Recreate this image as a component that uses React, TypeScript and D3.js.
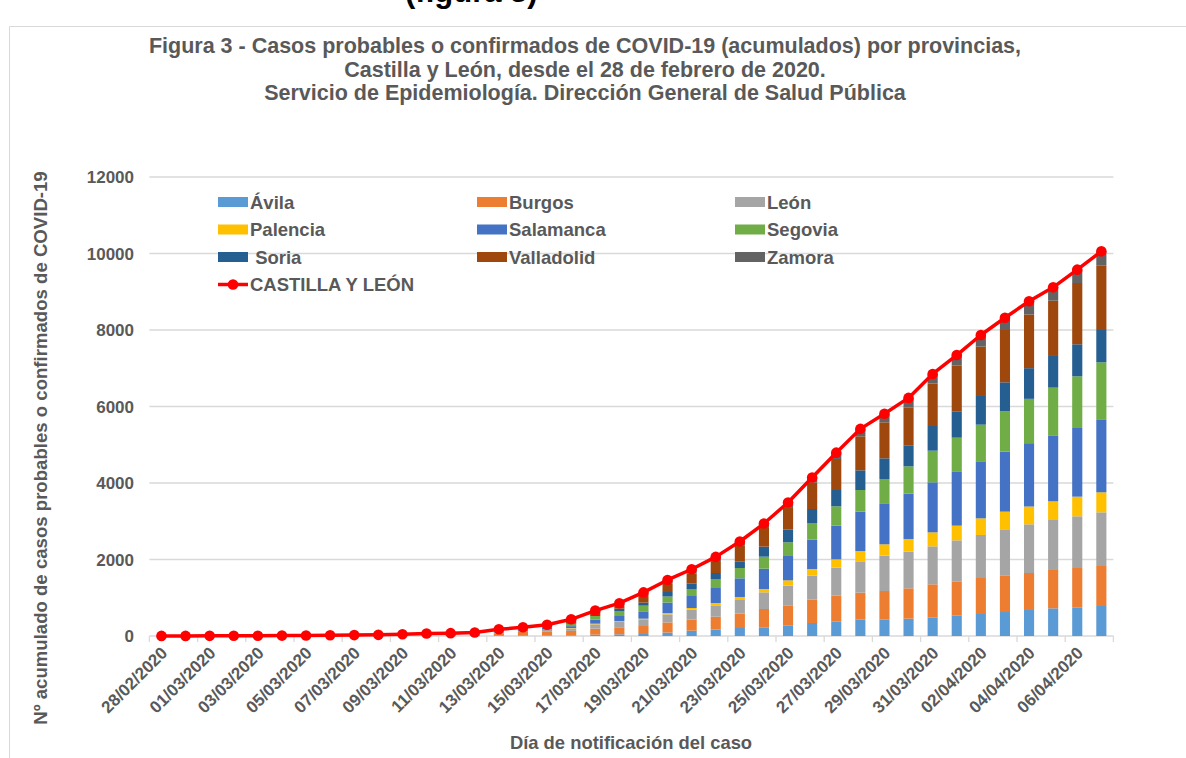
import React from "react";
import * as d3 from "d3";

const dates = [
  "28/02/2020", "29/02/2020", "01/03/2020", "02/03/2020", "03/03/2020", "04/03/2020", "05/03/2020", "06/03/2020",
  "07/03/2020", "08/03/2020", "09/03/2020", "10/03/2020", "11/03/2020", "12/03/2020", "13/03/2020", "14/03/2020",
  "15/03/2020", "16/03/2020", "17/03/2020", "18/03/2020", "19/03/2020", "20/03/2020", "21/03/2020", "22/03/2020",
  "23/03/2020", "24/03/2020", "25/03/2020", "26/03/2020", "27/03/2020", "28/03/2020", "29/03/2020", "30/03/2020",
  "31/03/2020", "01/04/2020", "02/04/2020", "03/04/2020", "04/04/2020", "05/04/2020", "06/04/2020", "07/04/2020",
];

const provinces = ["Ávila", "Burgos", "León", "Palencia", "Salamanca", "Segovia", "Soria", "Valladolid", "Zamora"];
const legendLabels = ["Ávila", "Burgos", "León", "Palencia", "Salamanca", "Segovia", " Soria", "Valladolid", "Zamora"];
const colors = ["#5B9BD5", "#ED7D31", "#A5A5A5", "#FFC000", "#4472C4", "#70AD47", "#255E91", "#9E480E", "#636363"];

const avila = [0,0,0,0,0,0,0,0,1,1,1,2,2,3,5,7,10,15,35,44,52,90,139,166,209,227,279,340,383,427,435,453,488,540,575,627,680,723,749,784];
const burgos = [1,1,2,3,4,5,7,9,11,14,20,28,32,38,65,98,112,118,157,183,209,265,288,339,375,479,523,610,671,706,741,793,863,889,941,959,967,1003,1029,1046];
const leon = [0,0,0,0,1,1,1,1,2,2,3,5,6,8,20,28,40,65,113,139,157,210,261,297,357,436,514,627,733,819,924,959,993,1072,1125,1203,1273,1307,1351,1403];
const palencia = [0,0,0,0,0,0,0,0,0,0,1,1,1,1,2,3,5,10,17,26,35,35,44,61,79,87,139,175,217,270,297,331,366,384,435,462,465,488,514,523];
const salamanca = [0,0,0,0,0,0,1,1,2,3,5,7,9,11,25,28,45,50,105,131,192,275,314,392,488,531,637,767,881,1029,1072,1185,1308,1420,1491,1568,1656,1725,1795,1909];
const segovia = [0,0,1,1,1,2,2,3,4,5,7,10,11,13,22,25,35,60,96,131,148,157,183,235,270,314,357,435,505,566,636,715,827,880,958,1055,1159,1247,1351,1490];
const soria = [0,0,0,0,0,0,0,0,0,0,1,1,1,2,3,4,8,20,26,61,79,118,139,157,174,262,331,366,427,514,540,549,645,689,750,758,802,828,837,845];
const valladolid = [1,1,1,2,2,2,3,4,4,5,7,10,12,13,30,30,35,66,68,75,180,225,270,313,408,489,590,689,811,889,941,993,1110,1194,1290,1368,1403,1446,1603,1691];
const zamora = [0,0,0,0,0,0,0,0,0,0,0,1,1,1,3,4,6,32,48,68,88,90,107,108,110,115,120,136,165,195,226,247,250,277,305,320,345,348,349,365];

const totalCyL = [2,2,4,6,8,10,14,18,24,30,45,65,75,90,175,227,296,436,665,858,1140,1465,1745,2068,2470,2940,3490,4145,4793,5415,5812,6225,6850,7345,7870,8320,8750,9115,9578,10056];

const yTicks = [0, 2000, 4000, 6000, 8000, 10000, 12000];

const titleLines = [
  "Figura 3 - Casos probables o confirmados de COVID-19 (acumulados) por provincias,",
  "Castilla y León, desde el 28 de febrero de 2020.",
  "Servicio de Epidemiología. Dirección General de Salud Pública",
];

const seriesValues = [avila, burgos, leon, palencia, salamanca, segovia, soria, valladolid, zamora];

const FONT = "'Liberation Sans', Arial, sans-serif";
const TXT = "#595959";

export default function App() {
  const W = 1186;
  const H = 758;
  const x = d3.scaleBand<string>().domain(dates).range([149.4, 1113.4]).padding(0);
  const y = d3.scaleLinear().domain([0, 12000]).range([636, 177]);
  const barW = x.bandwidth() * 0.42;

  const table = dates.map((d, i) => {
    const row: Record<string, any> = { date: d };
    provinces.forEach((p, k) => (row[p] = seriesValues[k][i]));
    return row;
  });
  const stacked = d3.stack<any>().keys(provinces)(table);

  const cx = (d: string) => (x(d) as number) + x.bandwidth() / 2;
  const line = d3
    .line<number>()
    .x((_, i) => cx(dates[i]))
    .y((v) => y(v));

  const legendCols = [218, 477, 735];
  const legendRows = [202, 229.5, 257, 284.5];

  return (
    <svg
      width={W}
      height={H}
      style={{ position: "absolute", left: 0, top: 0, background: "#fff" }}
      fontFamily={FONT}
    >
      <rect x={0} y={0} width={W} height={H} fill="#fff" />
      {/* text of the page above, cut at the top edge as in the reference */}
      <text x={405} y={2} fontSize={31} fontWeight="bold" fill="#000">
        (figura 3)
      </text>
      {/* chart border */}
      <line x1={9.5} x2={W} y1={26.5} y2={26.5} stroke="#D9D9D9" />
      <line x1={9.5} x2={9.5} y1={26.5} y2={H} stroke="#D9D9D9" />

      {/* title */}
      {titleLines.map((t, i) => (
        <text key={i} x={585} y={53 + i * 23.5} textAnchor="middle" fontSize={21.5} fontWeight="bold" fill={TXT}>
          {t}
        </text>
      ))}

      {/* gridlines */}
      {yTicks.map((t) => (
        <g key={t}>
          <line x1={149.4} x2={1113.4} y1={y(t)} y2={y(t)} stroke="#D9D9D9" strokeWidth={1.3} />
          <text x={134} y={y(t) + 6} textAnchor="end" fontSize={17} fontWeight="bold" fill={TXT}>
            {t}
          </text>
        </g>
      ))}

      {/* bars */}
      {stacked.map((s, k) => (
        <g key={s.key} fill={colors[k]}>
          {s.map((seg, i) => {
            const h = y(seg[0]) - y(seg[1]);
            if (h <= 0) return null;
            return <rect key={i} x={cx(dates[i]) - barW / 2} y={y(seg[1])} width={barW} height={h} />;
          })}
        </g>
      ))}

      {/* x axis ticks */}
      {dates.map((d, i) =>
        i % 2 === 0 ? (
          <line key={d} x1={x(d) as number} x2={x(d) as number} y1={y(0)} y2={y(0) + 6} stroke="#D9D9D9" strokeWidth={1.3} />
        ) : null
      )}
      <line x1={1113.4} x2={1113.4} y1={y(0)} y2={y(0) + 6} stroke="#D9D9D9" strokeWidth={1.3} />

      {/* total line */}
      <path d={line(totalCyL) || ""} fill="none" stroke="#FF0000" strokeWidth={3.5} strokeLinejoin="round" />
      {totalCyL.map((v, i) => (
        <circle key={i} cx={cx(dates[i])} cy={y(v)} r={5.3} fill="#FF0000" />
      ))}

      {/* x tick labels */}
      {dates.map((d, i) =>
        i % 2 === 0 ? (
          <text
            key={d}
            transform={`translate(${cx(d) + 7},${654}) rotate(-45)`}
            textAnchor="end"
            fontSize={17}
            fontWeight="bold"
            fill={TXT}
          >
            {d}
          </text>
        ) : null
      )}

      {/* axis titles */}
      <text x={631} y={749} textAnchor="middle" fontSize={18.4} fontWeight="bold" fill={TXT}>
        Día de notificación del caso
      </text>
      <text
        transform={`translate(47,448) rotate(-90)`}
        textAnchor="middle"
        fontSize={18.6}
        fontWeight="bold"
        fill={TXT}
      >
        Nº acumulado de casos probables o confirmados de COVID-19
      </text>

      {/* legend */}
      {legendLabels.map((lab, k) => {
        const lx = legendCols[k % 3];
        const ly = legendRows[Math.floor(k / 3)];
        return (
          <g key={lab}>
            <rect x={lx} y={ly - 5} width={30} height={10} fill={colors[k]} />
            <text x={lx + 32} y={ly + 6.5} fontSize={18.5} fontWeight="bold" fill={TXT} style={{ whiteSpace: "pre" }}>
              {lab}
            </text>
          </g>
        );
      })}
      <g>
        <line x1={legendCols[0]} x2={legendCols[0] + 30} y1={legendRows[3]} y2={legendRows[3]} stroke="#FF0000" strokeWidth={3.5} />
        <circle cx={legendCols[0] + 15} cy={legendRows[3]} r={5.3} fill="#FF0000" />
        <text x={legendCols[0] + 32} y={legendRows[3] + 6.5} fontSize={18.5} fontWeight="bold" fill={TXT}>
          CASTILLA Y LEÓN
        </text>
      </g>
    </svg>
  );
}
